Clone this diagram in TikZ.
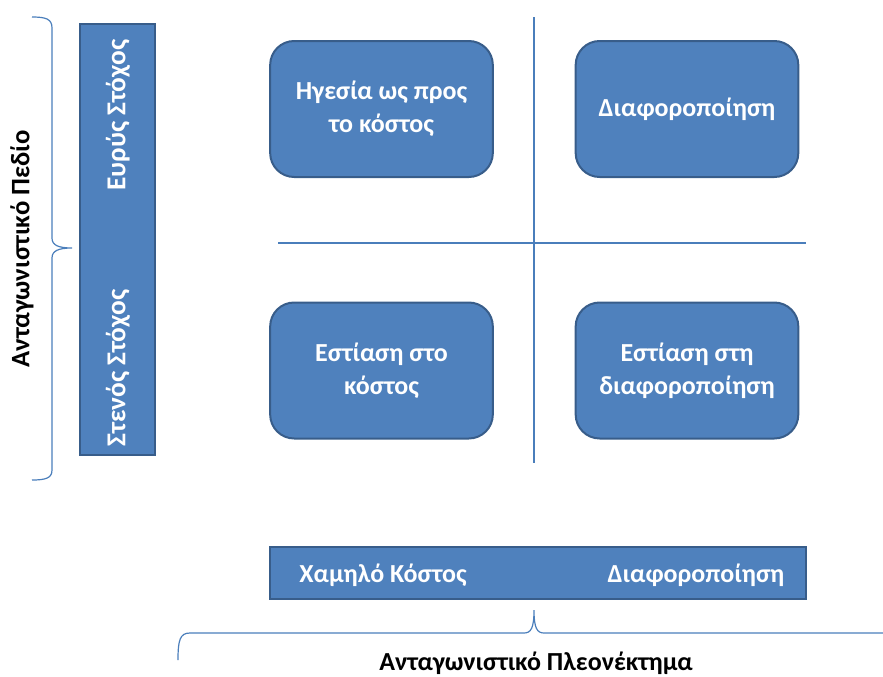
\documentclass[tikz,border=0pt]{standalone}
\usepackage{fontspec}
\setmainfont{Carlito}
\definecolor{boxfill}{HTML}{4F81BD}
\definecolor{boxdraw}{HTML}{385D8A}
\definecolor{linec}{HTML}{4A7EBB}
\begin{document}
\begin{tikzpicture}[x=0.75pt,y=-0.75pt,
  quad/.style={draw=boxdraw,line width=1.5pt,fill=boxfill,rounded corners=18pt,
    minimum width=167pt,minimum height=102pt,text=white,font=\fontsize{19.5}{25}\selectfont\bfseries,
    align=center,inner sep=0pt},
  bar/.style={draw=boxdraw,line width=1.5pt,fill=boxfill,inner sep=0pt},
  bartext/.style={text=white,font=\fontsize{19.5}{24}\selectfont\bfseries,inner sep=0pt},
  axislabel/.style={text=black,font=\fontsize{19.5}{24}\selectfont\bfseries,inner sep=0pt},
  guide/.style={draw=linec,line width=0.9pt}]
\useasboundingbox (0,0) rectangle (883,676);
% left bar
\node[bar,minimum width=56.25pt,minimum height=323.25pt] (lbar) at (117.5,239.5) {};
\node[bartext,rotate=90,font=\fontsize{20.5}{24}\selectfont\bfseries] (wide) at (118,115) {Ευρύς Στόχος};
\node[bartext,rotate=90,font=\fontsize{20.5}{24}\selectfont\bfseries] (narrow) at (118,368) {Στενός Στόχος};
% cross lines
\coordinate (vtop) at (534,17);
\coordinate (vbot) at (534,463);
\coordinate (hl) at (278,243);
\coordinate (hr) at (806,243);
\draw[guide] (vtop) -- (vbot);
\draw[guide] (hl) -- (hr);
% quadrants
\node[quad] (q1) at (381.5,109) {Ηγεσία ως προς\\το κόστος};
\node[quad] (q2) at (687,109) {Διαφοροποίηση};
\node[quad] (q3) at (381.5,370.5) {Εστίαση στο\\κόστος};
\node[quad] (q4) at (687,370.5) {Εστίαση στη\\διαφοροποίηση};
% bottom bar
\node[bar,minimum width=402pt,minimum height=39pt] (bbar) at (538,573) {};
\node[bartext] (low) at (383,575) {Χαμηλό Κόστος};
\node[bartext] (diff) at (696,575) {Διαφοροποίηση};
% left brace
\draw[guide] (32,17) .. controls (46,17) and (52,19) .. (52,28) -- (52,238)
  .. controls (52,245) and (58,248) .. (72,248)
  .. controls (58,248) and (52,251) .. (52,258) -- (52,470)
  .. controls (52,478) and (46,480) .. (32,480);
\node[axislabel,rotate=90,font=\fontsize{20}{24}\selectfont\bfseries] (field) at (22,249) {Ανταγωνιστικό Πεδίο};
% bottom brace
\draw[guide] (178,660) .. controls (178,640) and (180,633) .. (190,633) -- (524,633)
  .. controls (531,633) and (534,628) .. (534,610)
  .. controls (534,628) and (537,633) .. (544,633) -- (883,633);
\node[axislabel] (adv) at (536,663) {Ανταγωνιστικό Πλεονέκτημα};
\end{tikzpicture}
\end{document}
